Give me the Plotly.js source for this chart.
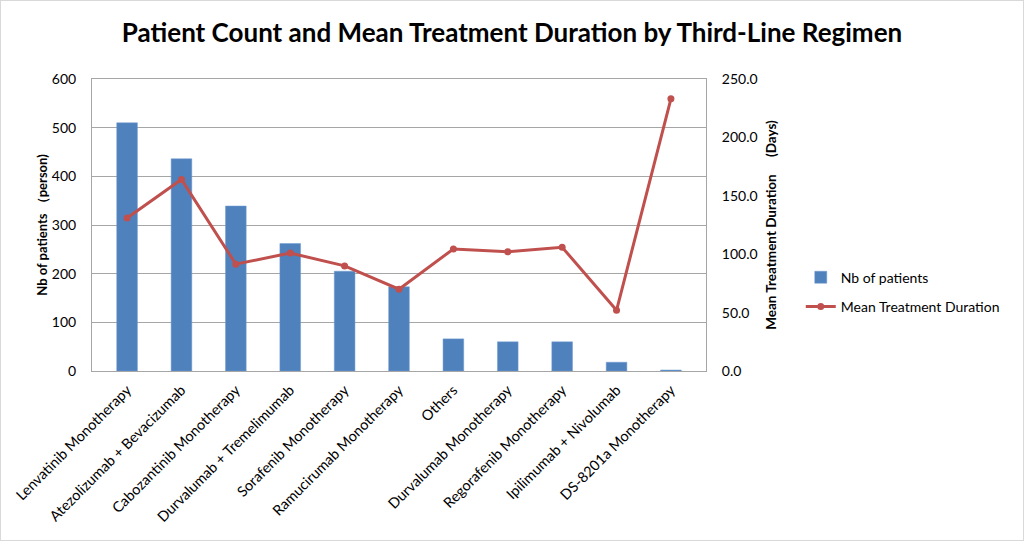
<!DOCTYPE html>
<html>
<head>
<meta charset="utf-8">
<script src="https://cdn.plot.ly/plotly-3.0.1.min.js"></script>
<style>
html,body{margin:0;padding:0;background:#fff;}
#frame{width:1024px;height:541px;box-sizing:border-box;border:1px solid #d9d9d9;position:relative;overflow:hidden;}
#chart{position:absolute;left:-1px;top:-1px;width:1024px;height:541px;}
</style>
</head>
<body>
<div id="frame"><div id="chart"></div></div>
<script>
const categories = [
  "Lenvatinib Monotherapy",
  "Atezolizumab + Bevacizumab",
  "Cabozantinib Monotherapy",
  "Durvalumab + Tremelimumab",
  "Sorafenib Monotherapy",
  "Ramucirumab Monotherapy",
  "Others",
  "Durvalumab Monotherapy",
  "Regorafenib Monotherapy",
  "Ipilimumab + Nivolumab",
  "DS-8201a Monotherapy"
];
const patients = [510, 436, 339, 262, 205, 173, 66, 60, 60, 18, 2];
const meanDuration = [131, 164, 91.5, 101, 90, 70, 104.5, 102, 106, 52, 233];
const leftTicks = [0, 100, 200, 300, 400, 500, 600];
const rightTicks = [0, 50, 100, 150, 200, 250];

const FONT = "Lato, 'Open Sans', sans-serif";

const traces = [
  {
    type: "bar",
    name: "Nb of patients",
    legendgroup: "g1",
    x: categories,
    y: patients,
    marker: {color: "#4f81bd", line: {color: "#6f9bd0", width: 0.5}},
    yaxis: "y"
  },
  {
    type: "scatter",
    mode: "lines+markers",
    name: "Mean Treatment Duration",
    legendgroup: "g2",
    x: categories,
    y: meanDuration,
    line: {color: "#c0504d", width: 3},
    marker: {color: "#c0504d", size: 7},
    yaxis: "y2"
  }
];

const layout = {
  width: 1024,
  height: 541,
  paper_bgcolor: "rgba(0,0,0,0)",
  plot_bgcolor: "#ffffff",
  margin: {l: 92, r: 318, t: 79, b: 170, autoexpand: false},
  font: {family: FONT, color: "#000", size: 14},
  title: {
    text: "<b>Patient Count and Mean Treatment Duration by Third-Line Regimen</b>",
    font: {family: FONT, size: 26, color: "#000"},
    x: 0.5, xref: "container", xanchor: "center",
    y: 0.94, yref: "container", yanchor: "middle"
  },
  bargap: 0.62,
  showlegend: true,
  legend: {
    xref: "container", yref: "container",
    x: 0.782, xanchor: "left", y: 0.46, yanchor: "middle",
    font: {family: FONT, size: 14, color: "#000"},
    traceorder: "grouped",
    tracegroupgap: 8, itemwidth: 30
  },
  xaxis: {
    type: "category",
    tickangle: -45,
    tickfont: {family: FONT, size: 14.5, color: "#000"},
    showgrid: false,
    showline: true, linecolor: "#a6a6a6", linewidth: 1, mirror: true,
    ticks: "", ticklen: 0, ticklabelstandoff: 4
  },
  yaxis: {
    range: [0, 600],
    tickvals: leftTicks,
    ticktext: leftTicks.map(String),
    tickfont: {family: FONT, size: 14, color: "#000"},
    showgrid: true, gridcolor: "#a6a6a6", gridwidth: 1,
    showline: true, linecolor: "#a6a6a6", linewidth: 1,
    zeroline: false,
    ticks: "", ticklabelstandoff: 12,
    title: {text: "<b>Nb of patients （person)</b>", font: {family: FONT, size: 13, color: "#000"}, standoff: 1}
  },
  yaxis2: {
    overlaying: "y",
    side: "right",
    range: [0, 250],
    tickvals: rightTicks,
    ticktext: rightTicks.map(v => v.toFixed(1)),
    tickfont: {family: FONT, size: 14, color: "#000"},
    showgrid: false,
    showline: true, linecolor: "#a6a6a6", linewidth: 1,
    zeroline: false,
    ticks: "", ticklabelstandoff: 12,
    title: {text: "<b>Mean Treatment Duration　 (Days)</b>", font: {family: FONT, size: 13.5, color: "#000"}, standoff: 9}
  }
};

Plotly.newPlot("chart", traces, layout, {displayModeBar: false, staticPlot: true});
</script>
</body>
</html>
